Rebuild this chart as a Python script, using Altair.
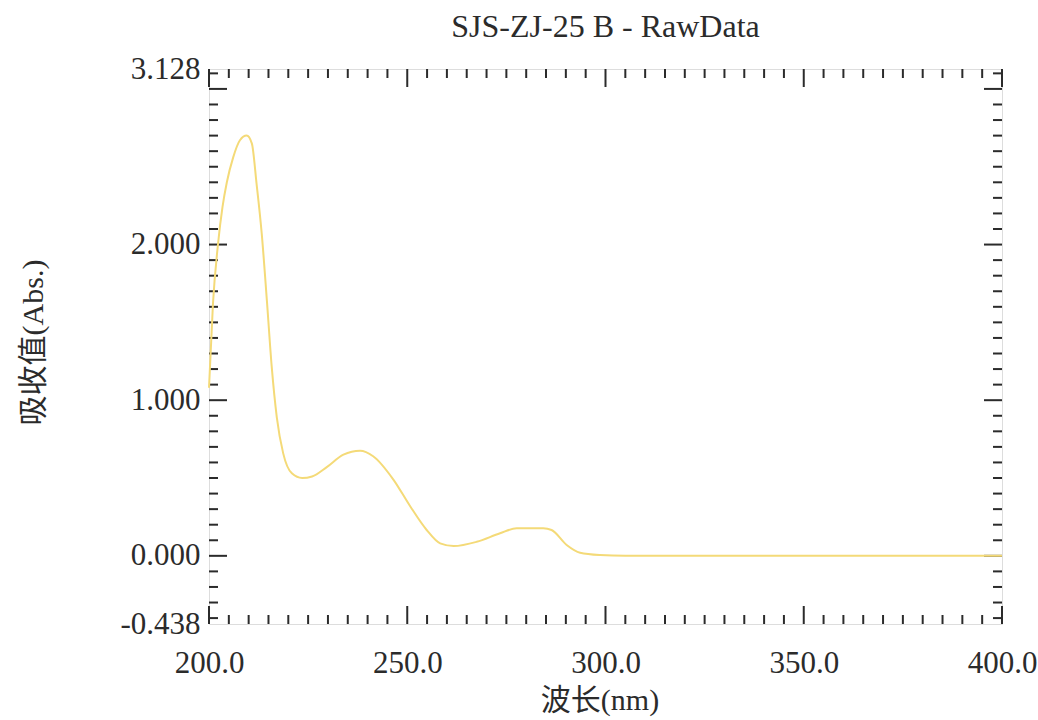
import altair as alt
import pandas as pd

# Spectrum
wavelength = [200.0, 201.0, 202.3, 203.4, 204.5, 206.1, 207.8, 209.5, 210.8, 212.0, 213.3,
              214.6, 215.8, 217.1, 218.7, 220.9, 223.5, 226.0, 229.7, 233.9, 238.1, 241.4,
              246.5, 250.7, 254.9, 258.3, 261.7, 267.5, 273.4, 277.6, 284.3, 286.4, 290.2,
              293.6, 298.6, 305.0, 330.0, 360.0, 400.0]
absorbance = [1.08, 1.62, 2.01, 2.24, 2.40, 2.56, 2.67, 2.70, 2.65, 2.39, 2.07,
              1.64, 1.22, 0.89, 0.66, 0.53, 0.50, 0.51, 0.57, 0.65, 0.675, 0.64,
              0.49, 0.32, 0.166, 0.08, 0.063, 0.09, 0.145, 0.177, 0.177, 0.166, 0.07,
              0.02, 0.005, 0.0, 0.0, 0.0, 0.0]

x_labels = [200, 250, 300, 350, 400]
y_labels = [-0.438, 0.0, 1.0, 2.0, 3.128]
x_major = [200, 250, 300, 350, 400]
x_minor = [200 + 5 * i for i in range(41) if i % 10 != 0]
y_major = [0, 1, 2, 3]
y_minor = [round(-0.4 + 0.1 * i, 1) for i in range(36) if (i - 4) % 10 != 0]

W, H = 793, 555
SERIF = "Liberation Serif"
CJK = "Liberation Serif, Noto Sans CJK SC"
INK = "#2b2b2b"

x_scale = alt.Scale(domain=[200, 400], nice=False, zero=False)
y_scale = alt.Scale(domain=[-0.438, 3.128], nice=False, zero=False)

x_axis = alt.Axis(values=x_labels, format=".1f", title="波长(nm)", grid=False, ticks=False,
                  tickSize=0, domain=False, labelFont=SERIF, labelFontSize=31,
                  labelColor=INK, labelPadding=24, labelFlush=False, labelOverlap=False,
                  titleFont=CJK, titleFontSize=30, titleFontWeight="normal", titleColor=INK,
                  titleX=W / 2 - 6, titleY=85, titleBaseline="alphabetic")
y_axis = alt.Axis(values=y_labels, title="吸收值(Abs.)", grid=False, ticks=False,
                  labelExpr="datum.value < 0 ? '-' + format(-datum.value, '.3f') : format(datum.value, '.3f')",
                  tickSize=0, domain=False, labelFont=SERIF, labelFontSize=31,
                  labelColor=INK, labelPadding=9, labelOverlap=False, labelFlush=False,
                  titleFont=CJK, titleFontSize=30, titleFontWeight="normal", titleColor=INK,
                  titleX=-167, titleY=273, titleBaseline="alphabetic", titleAngle=-90)

df = pd.DataFrame({"nm": wavelength, "abs": absorbance})

X = alt.X("nm:Q", scale=x_scale, axis=x_axis)
Y = alt.Y("abs:Q", scale=y_scale, axis=y_axis)


def yticks(vals, length, right):
    d = pd.DataFrame({"abs": vals})
    if right:
        xs = dict(x=alt.value(W - length), x2=alt.value(W))
    else:
        xs = dict(x=alt.value(0), x2=alt.value(length))
    return alt.Chart(d).mark_rule(color=INK, strokeWidth=2).encode(y=Y, **xs)


def xticks(vals, length, top):
    d = pd.DataFrame({"nm": vals})
    if top:
        ys = dict(y=alt.value(0), y2=alt.value(length))
    else:
        ys = dict(y=alt.value(H - length), y2=alt.value(H))
    return alt.Chart(d).mark_rule(color=INK, strokeWidth=2).encode(x=X, **ys)


tick_layers = [
    yticks(y_minor, 9, False), yticks(y_minor, 9, True),
    yticks(y_major, 18, False), yticks(y_major, 18, True),
    xticks(x_minor, 9, False), xticks(x_minor, 9, True),
    xticks(x_major, 18, False), xticks(x_major, 18, True),
]

line = alt.Chart(df).mark_line(color="#F4DA78", strokeWidth=2, interpolate="monotone").encode(x=X, y=Y)

chart = alt.layer(*tick_layers, line).properties(
    width=W, height=H,
    title=alt.TitleParams("SJS-ZJ-25 B - RawData", font=SERIF, fontSize=32,
                          fontWeight="normal", color=INK, anchor="middle", offset=9),
    padding={"left": 209, "top": 69, "right": 36, "bottom": 96},
    autosize=alt.AutoSizeParams(type="none"),
).configure_view(stroke=INK, strokeWidth=2).configure(background="white")

chart.save("out.html", embed_options={"renderer": "svg", "actions": False})
